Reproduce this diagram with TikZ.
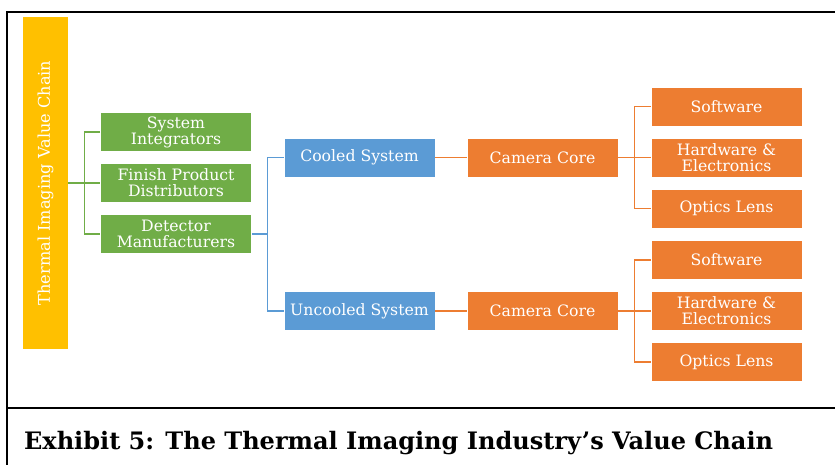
\documentclass[tikz,border=0pt]{standalone}
\usepackage{fontspec}
\setmainfont{DejaVu Serif}
\usetikzlibrary{calc, positioning}
\definecolor{chainyellow}{HTML}{FFC000}
\definecolor{chaingreen}{HTML}{70AD47}
\definecolor{chainblue}{HTML}{5B9BD5}
\definecolor{chainorange}{HTML}{ED7D31}

\begin{document}
\begin{tikzpicture}[x=0.03cm, y=-0.03cm,
    box/.style={draw=white, line width=0.6pt, text=white, align=center, inner sep=0pt,
        minimum width=4.53cm, minimum height=1.17cm, font=\fontsize{13.4}{13.6}\selectfont},
    greenbox/.style={box, fill=chaingreen},
    bluebox/.style={box, fill=chainblue},
    orangebox/.style={box, fill=chainorange},
    link/.style={line width=0.9pt}]
    \useasboundingbox (0, 0) rectangle (835, 465);
    \draw[line width=1.7pt] (6, 12) -- (835, 12) (7, 12) -- (7, 465) (7, 408) -- (835, 408);
    \node[fill=chainyellow, minimum width=1.35cm, minimum height=9.93cm, inner sep=0pt] (bar) at (45.5, 183) {};
    \node[rotate=90, text=white, font=\fontsize{13.8}{15}\selectfont] at (bar) {Thermal Imaging Value Chain};
    \node[greenbox] (integrators) at (176, 132) {System\\Integrators};
    \node[greenbox] (distributors) at (176, 183) {Finish Product\\Distributors};
    \node[greenbox] (detector) at (176, 234) {Detector\\Manufacturers};
    \node[bluebox] (cooled) at (359.5, 157.5) {Cooled System};
    \node[bluebox] (uncooled) at (359.5, 311) {Uncooled System};
    \node[orangebox] (core1) at (542.5, 157.5) {Camera Core};
    \node[orangebox] (core2) at (542.5, 311) {Camera Core};
    \node[orangebox] (software1) at (726.5, 106.5) {Software};
    \node[orangebox] (hardware1) at (726.5, 157.5) {Hardware \&\\Electronics};
    \node[orangebox] (optics1) at (726.5, 208.5) {Optics Lens};
    \node[orangebox] (software2) at (726.5, 260) {Software};
    \node[orangebox] (hardware2) at (726.5, 311) {Hardware \&\\Electronics};
    \node[orangebox] (optics2) at (726.5, 362) {Optics Lens};
    \coordinate (gtrunk) at ($(bar.east)!0.5!(distributors.west)$);
    \coordinate (btrunk) at ($(detector.east)!0.5!(cooled.west |- detector.east)$);
    \coordinate (otrunk1) at ($(core1.east)!0.5!(hardware1.west)$);
    \coordinate (otrunk2) at ($(core2.east)!0.5!(hardware2.west)$);
    \draw[link, chaingreen]
    (bar.east) -- (distributors.west)
    (integrators.west) -| (gtrunk) |- (detector.west);
    \draw[link, chainblue]
    (detector.east) -- (btrunk)
    (cooled.west) -| (btrunk) |- (uncooled.west);
    \draw[link, chainorange]
    (cooled.east) -- (core1.west)
    (uncooled.east) -- (core2.west)
    (core1.east) -- (hardware1.west)
    (core2.east) -- (hardware2.west)
    (software1.west) -| (otrunk1) |- (optics1.west)
    (software2.west) -| (otrunk2) |- (optics2.west);
    \node[anchor=base west, font=\bfseries\fontsize{20.5}{22}\selectfont] (caption) at (20, 449) {Exhibit 5: The Thermal Imaging Industry’s Value Chain};
\end{tikzpicture}
\end{document}
